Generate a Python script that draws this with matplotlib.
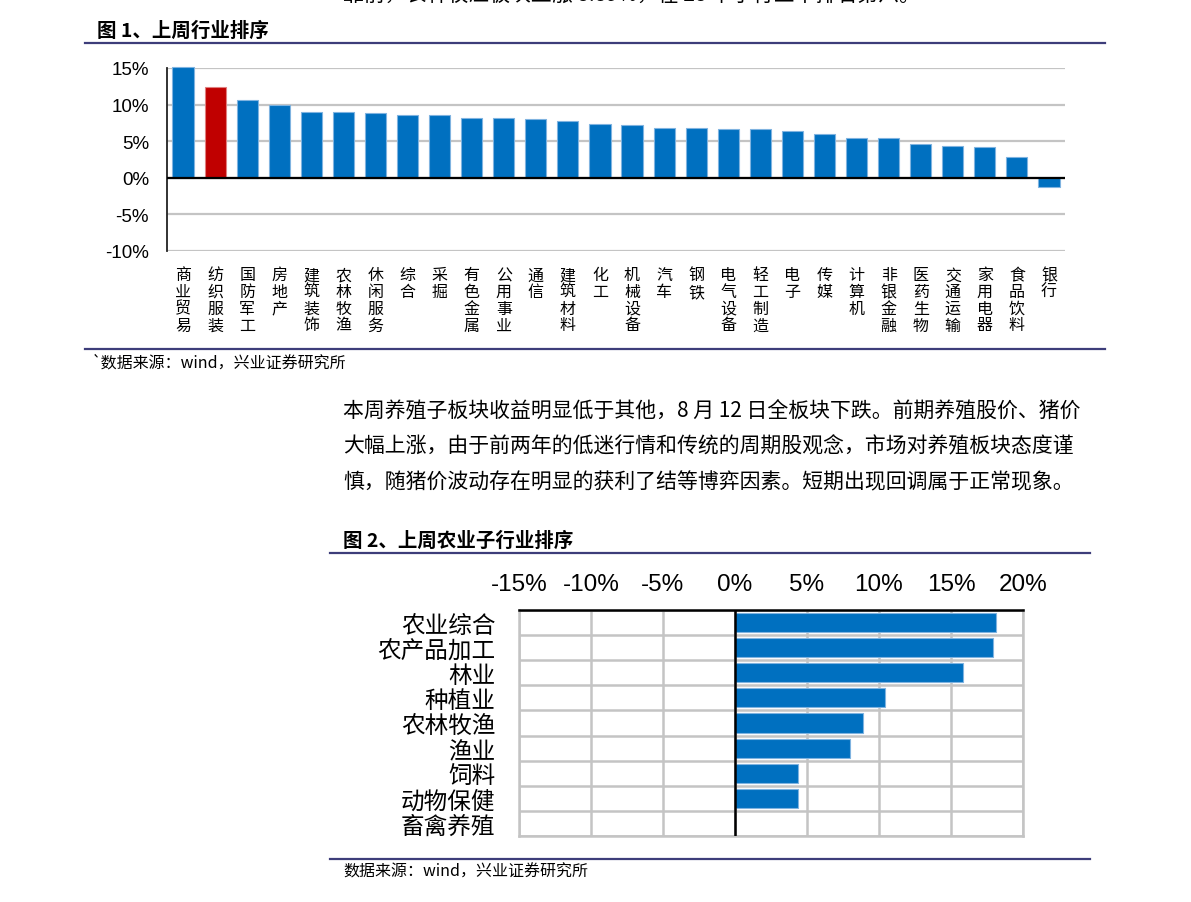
import matplotlib
matplotlib.use("Agg")
import matplotlib.pyplot as plt
from matplotlib.lines import Line2D
import numpy as np

plt.rcParams['font.family'] = ['Noto Sans CJK SC', 'DejaVu Sans']

# ---------------- data ----------------
industries = ["商业贸易", "纺织服装", "国防军工", "房地产", "建筑装饰", "农林牧渔", "休闲服务",
              "综合", "采掘", "有色金属", "公用事业", "通信", "建筑材料", "化工", "机械设备",
              "汽车", "钢铁", "电气设备", "轻工制造", "电子", "传媒", "计算机", "非银金融",
              "医药生物", "交通运输", "家用电器", "食品饮料", "银行"]
industry_returns = [15.1, 12.4, 10.6, 10.0, 9.0, 9.0, 8.8, 8.6, 8.6, 8.2, 8.2, 8.0, 7.8, 7.4,
                    7.2, 6.8, 6.8, 6.6, 6.6, 6.4, 6.0, 5.4, 5.4, 4.6, 4.3, 4.2, 2.8, -1.3]
highlight = "纺织服装"
y1_ticks = [-10, -5, 0, 5, 10, 15]

sub_industries = ["农业综合", "农产品加工", "林业", "种植业", "农林牧渔", "渔业", "饲料", "动物保健", "畜禽养殖"]
sub_returns = [18.1, 17.9, 15.8, 10.4, 8.9, 8.0, 4.4, 4.4, 0.0]
x2_ticks = [-15, -10, -5, 0, 5, 10, 15, 20]

BLUE = "#0070C0"
RED = "#C00000"
EDGE = "#7fb3e0"
GRID = "#c4c4c4"
RULE = "#3d3d7a"

W, H = 1191, 903
fig = plt.figure(figsize=(W / 100, H / 100), dpi=100)
fig.patch.set_facecolor("white")

def fx(x):
    return x / W

def fy(y):
    return 1 - y / H

def rule(x0, x1, y):
    fig.add_artist(Line2D([fx(x0), fx(x1)], [fy(y), fy(y)], color=RULE, lw=1.6,
                          transform=fig.transFigure))

# ---------------- page text ----------------
fig.text(fx(343), fy(-4), "靠前，农林牧渔板块上涨 8.89%，在 28 个子行业中排名第六。",
         fontsize=15, va="center", ha="left", color="black")
fig.text(fx(97), fy(31), "图 1、上周行业排序", fontsize=14, weight="bold", va="center", ha="left")
rule(85, 1105, 44)
rule(85, 1105, 350)
fig.text(fx(92), fy(363), "`数据来源：wind，兴业证券研究所", fontsize=11.5, va="center", ha="left")

para = ["本周养殖子板块收益明显低于其他，8 月 12 日全板块下跌。前期养殖股价、猪价",
        "大幅上涨，由于前两年的低迷行情和传统的周期股观念，市场对养殖板块态度谨",
        "慎，随猪价波动存在明显的获利了结等博弈因素。短期出现回调属于正常现象。"]
for i, line in enumerate(para):
    fig.text(fx(343), fy(411 + i * 35.5), line, fontsize=15, va="center", ha="left")

fig.text(fx(343), fy(541), "图 2、上周农业子行业排序", fontsize=14, weight="bold", va="center", ha="left")
rule(330, 1090, 554)
rule(330, 1090, 860)
fig.text(fx(343), fy(872), "数据来源：wind，兴业证券研究所", fontsize=11.5, va="center", ha="left")

# ---------------- chart 1 ----------------
ax1 = fig.add_axes([fx(167), fy(252), fx(1065) - fx(167), fy(69) - fy(252)])
xpos = np.arange(len(industries))
colors = [RED if n == highlight else BLUE for n in industries]
bars = ax1.bar(xpos, industry_returns, width=0.66, color=colors, edgecolor=EDGE, linewidth=0.8,
               zorder=3)
for b in bars:
    b.set_clip_on(False)
for b, n in zip(bars, industries):
    if n == highlight:
        b.set_edgecolor("#e08080")
ax1.set_xlim(-0.5, len(industries) - 0.5)
ax1.set_ylim(y1_ticks[0], y1_ticks[-1])
ax1.set_yticks(y1_ticks)
ax1.set_yticklabels([f"{t}%" for t in y1_ticks], family="Liberation Sans", fontsize=13.5)
ax1.yaxis.grid(True, color=GRID, lw=1.6, zorder=0)
ax1.axhline(0, color="black", lw=1.6, zorder=4)
ax1.set_xticks(xpos)
ax1.set_xticklabels(["\n".join(list(n)) for n in industries], fontsize=11.5, va="top",
                    linespacing=0.98)
ax1.tick_params(axis="both", length=0)
ax1.tick_params(axis="y", pad=13)
ax1.tick_params(axis="x", pad=11)
for s in ["top", "right", "bottom"]:
    ax1.spines[s].set_visible(False)
ax1.spines["left"].set_color("#222222")
ax1.spines["left"].set_linewidth(1.3)
ax1.set_facecolor("white")

# ---------------- chart 2 ----------------
ax2 = fig.add_axes([fx(519), fy(837), fx(1023) - fx(519), fy(611) - fy(837)])
ypos = np.arange(len(sub_industries))
ax2.barh(ypos, sub_returns, height=0.76, color=BLUE, edgecolor=EDGE, linewidth=0.8, zorder=3)
ax2.set_xlim(x2_ticks[0], x2_ticks[-1])
ax2.set_ylim(len(sub_industries) - 0.5, -0.5)
ax2.set_xticks(x2_ticks)
ax2.set_xticklabels([f"{t}%" for t in x2_ticks], family="Liberation Sans", fontsize=17.5)
ax2.xaxis.tick_top()
ax2.set_yticks(ypos)
ax2.set_yticklabels(sub_industries, fontsize=17)
ax2.set_yticks(np.arange(-0.5, len(sub_industries), 1), minor=True)
ax2.xaxis.grid(True, color=GRID, lw=1.8, zorder=0)
ax2.yaxis.grid(True, which="minor", color=GRID, lw=1.8, zorder=0)
ax2.axvline(0, color="black", lw=1.8, zorder=4)
ax2.tick_params(axis="both", which="both", length=0)
ax2.tick_params(axis="x", pad=11)
ax2.tick_params(axis="y", pad=17)
for s in ["left", "right", "bottom"]:
    ax2.spines[s].set_color(GRID)
    ax2.spines[s].set_linewidth(1.8)
ax2.spines["top"].set_color("black")
ax2.spines["top"].set_linewidth(1.8)

fig.savefig("out.png", dpi=100, facecolor="white")
